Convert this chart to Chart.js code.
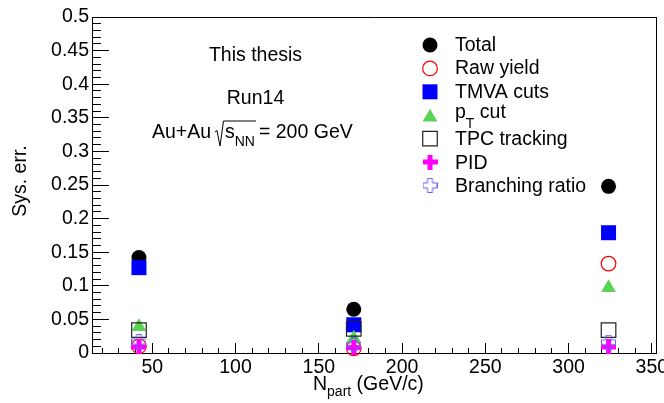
<!DOCTYPE html>
<html><head><meta charset="utf-8">
<script src="https://cdn.jsdelivr.net/npm/chart.js@4/dist/chart.umd.min.js"></script>
<style>html,body{margin:0;padding:0;background:#fff;}canvas{display:block;}</style>
</head><body>
<canvas id="c" width="664" height="403"></canvas>
<script>
// ---------------- data ----------------
const npart       = [42, 171, 324];
const totalErr    = [0.142, 0.065, 0.248];
const rawYieldErr = [0.010, 0.007, 0.133];
const tmvaErr     = [0.127, 0.042, 0.179];
const ptCutErr    = [0.039, 0.022, 0.097];
const tpcErr      = [0.034, 0.036, 0.034];
const pidErr      = [0.009, 0.008, 0.009];
const brErr       = [0.017, 0.012, 0.016];
const seriesNames = ['Total', 'Raw yield', 'TMVA cuts', 'p_{T} cut', 'TPC tracking', 'PID', 'Branching ratio'];
const xTickValues = [50, 100, 150, 200, 250, 300, 350];
const xTickLabels = ['50', '100', '150', '200', '250', '300', '350'];
const yTickValues = [0, 0.05, 0.1, 0.15, 0.2, 0.25, 0.3, 0.35, 0.4, 0.45, 0.5];
const yTickLabels = ['0', '0.05', '0.1', '0.15', '0.2', '0.25', '0.3', '0.35', '0.4', '0.45', '0.5'];
const xMinorStep = 10;
const yMinorStep = 0.01;
const xTitle = 'N_{part} (GeV/c)';
const yTitle = 'Sys. err.';
const textLines = ['This thesis', 'Run14'];

// ---------------- styling ----------------
const FAM = '"Liberation Sans", Arial, Helvetica, sans-serif';
const FS = 19.5, SUBFS = 14;
const font = s => s + 'px ' + FAM;
Chart.defaults.font.family = FAM;
Chart.defaults.font.size = FS;
Chart.defaults.color = '#000';

const X_MIN = 13.8, X_MAX = 352.5, Y_MIN = 0, Y_MAX = 0.5;

function crossCanvas(fill, stroke) {
  const s = 15, c = document.createElement('canvas');
  c.width = s; c.height = s;
  const g = c.getContext('2d');
  let o0, o1, a0, a1;
  if (fill) { o0 = 0; o1 = 15; a0 = 5; a1 = 10; }
  else { o0 = 0.5; o1 = 14.5; a0 = 5.0; a1 = 10.0; }
  g.beginPath();
  g.moveTo(a0, o0); g.lineTo(a1, o0); g.lineTo(a1, a0); g.lineTo(o1, a0);
  g.lineTo(o1, a1); g.lineTo(a1, a1); g.lineTo(a1, o1); g.lineTo(a0, o1);
  g.lineTo(a0, a1); g.lineTo(o0, a1); g.lineTo(o0, a0); g.lineTo(a0, a0);
  g.closePath();
  if (fill) { g.fillStyle = fill; g.fill(); }
  else { g.strokeStyle = stroke; g.lineWidth = 1; g.stroke(); }
  return c;
}
const crossFilled = crossCanvas('#ff00ff', null);
const crossOpen = crossCanvas(null, '#6060ee');

const seriesValues = [totalErr, rawYieldErr, tmvaErr, ptCutErr, tpcErr, pidErr, brErr];
const styles = [
  { pointStyle: 'circle', radius: 7.5, bg: '#000000', bc: '#000000', bw: 0 },
  { pointStyle: 'circle', radius: 7.3, bg: 'rgba(0,0,0,0)', bc: '#ff0000', bw: 1.2 },
  { pointStyle: 'rect', radius: 10.6, bg: '#0000ff', bc: '#0000ff', bw: 0 },
  { pointStyle: 'triangle', radius: 8.5, bg: '#59d454', bc: '#59d454', bw: 0 },
  { pointStyle: 'rect', radius: 10.3, bg: 'rgba(0,0,0,0)', bc: '#222222', bw: 1.2 },
  { pointStyle: crossFilled, radius: 7.5, bg: '#ff00ff', bc: '#ff00ff', bw: 0 },
  { pointStyle: crossOpen, radius: 7.5, bg: '#6060ee', bc: '#6060ee', bw: 0 }
];

const datasets = seriesNames.map((name, i) => ({
  label: name,
  data: npart.map((x, k) => ({ x: x, y: seriesValues[i][k] })),
  pointStyle: styles[i].pointStyle,
  pointRadius: styles[i].radius,
  pointHoverRadius: styles[i].radius,
  backgroundColor: styles[i].bg,
  borderColor: styles[i].bc,
  borderWidth: styles[i].bw,
  pointBorderWidth: styles[i].bw,
  showLine: false,
  clip: false,
  order: 20 - i
}));

function parseRich(label) {
  const segs = []; const re = /_\{([^}]*)\}/g; let last = 0, m;
  while ((m = re.exec(label))) {
    if (m.index > last) segs.push({ t: label.slice(last, m.index) });
    segs.push({ t: m[1], sub: true });
    last = re.lastIndex;
  }
  if (last < label.length) segs.push({ t: label.slice(last) });
  return segs;
}
function drawRich(ctx, segs, x, y, subDy, align) {
  const w = segs.map(s => { ctx.font = font(s.sub ? SUBFS : FS); return ctx.measureText(s.t).width; });
  const total = w.reduce((a, b) => a + b, 0);
  let cx = align === 'center' ? x - total / 2 : x;
  segs.forEach((s, i) => {
    ctx.font = font(s.sub ? SUBFS : FS);
    ctx.fillText(s.t, cx, y + (s.sub ? subDy : 0));
    cx += w[i];
  });
}

const annotations = {
  id: 'annotations',
  afterDraw(chart) {
    const { ctx, data } = chart;
    ctx.save();
    ctx.fillStyle = '#000';
    ctx.textBaseline = 'alphabetic';
    ctx.textAlign = 'left';
    drawRich(ctx, [{ t: textLines[0] }], 255.5, 61, 0, 'center');
    drawRich(ctx, [{ t: textLines[1] }], 255.5, 104, 0, 'center');
    {
      const base = 138, subDy = 8;
      ctx.font = font(FS);
      const w1 = ctx.measureText('Au+Au').width;
      const xRad = 215;
      const xS = xRad + 10;
      const wS = ctx.measureText('s').width;
      ctx.font = font(SUBFS);
      const wNN = ctx.measureText('NN').width;
      ctx.font = font(FS);
      ctx.fillText('Au+Au', xRad - 4 - w1, base);
      const top = base - 17, bot = base + 8;
      ctx.beginPath();
      ctx.strokeStyle = '#000'; ctx.lineWidth = 1;
      ctx.moveTo(xRad, base - 6);
      ctx.lineTo(xRad + 2, base - 7.5);
      ctx.lineTo(xRad + 5, bot);
      ctx.lineTo(xRad + 8.5, top);
      ctx.lineTo(xS + wS + wNN + 1, top);
      ctx.stroke();
      ctx.fillText('s', xS, base);
      ctx.font = font(SUBFS);
      ctx.fillText('NN', xS + wS, base + subDy);
      ctx.font = font(FS);
      ctx.fillText('= 200 GeV', xS + wS + wNN + 4, base);
    }
    const mx = 430, tx = 455;
    data.datasets.forEach((ds, i) => {
      const my = 45 + 23.4 * i + (ds.pointStyle === 'triangle' ? 2 : 0);
      const ty = 50.7 + 23.6 * i;
      ctx.save();
      ctx.fillStyle = ds.backgroundColor;
      ctx.strokeStyle = ds.borderColor;
      ctx.lineWidth = ds.borderWidth;
      Chart.helpers.drawPoint(ctx, {
        pointStyle: ds.pointStyle, radius: ds.pointRadius, rotation: 0, borderWidth: ds.borderWidth
      }, mx, my);
      ctx.restore();
      ctx.fillStyle = '#000';
      const segs = parseRich(ds.label);
      const hasSub = segs.some(s => s.sub);
      drawRich(ctx, segs, tx, hasSub ? ty - 4 : ty, 10, 'left');
    });
    drawRich(ctx, parseRich(xTitle), 313, 390, 6, 'left');
    ctx.save();
    ctx.translate(26, 181);
    ctx.rotate(-Math.PI / 2);
    ctx.font = font(FS);
    ctx.textAlign = 'center';
    ctx.fillText(yTitle, 0, 0);
    ctx.restore();
    ctx.restore();
  }
};

const blackBorder = { display: true, color: '#000000', width: 1 };
const inwardTicks = len => ({ display: true, drawOnChartArea: false, drawTicks: true, tickLength: -len,
                              color: '#000000', tickColor: '#000000', tickWidth: 1, lineWidth: 1 });
const noGrid = { display: true, drawOnChartArea: false, drawTicks: false, color: '#000000', lineWidth: 1 };

new Chart(document.getElementById('c'), {
  type: 'scatter',
  data: { datasets: datasets },
  options: {
    responsive: false,
    animation: false,
    devicePixelRatio: 1,
    layout: { autoPadding: false, padding: { top: 17, right: 8, left: 0, bottom: 0 } },
    plugins: { legend: { display: false }, tooltip: { enabled: false } },
    scales: {
      x: {
        type: 'linear', position: 'bottom', min: X_MIN, max: X_MAX, weight: 0,
        grid: inwardTicks(10),
        border: blackBorder,
        afterBuildTicks: s => { s.ticks = xTickValues.map(v => ({ value: v })); },
        afterFit: s => { s.height = 50; s.paddingLeft = 0; s.paddingRight = 0; },
        ticks: { padding: 13, maxRotation: 0, autoSkip: false, font: { size: FS },
                 callback: (v, i) => xTickLabels[i] }
      },
      xm: {
        type: 'linear', axis: 'x', position: 'bottom', min: X_MIN, max: X_MAX, weight: -1,
        grid: inwardTicks(5),
        border: { display: false },
        afterBuildTicks: s => {
          const t = [];
          for (let k = Math.ceil(X_MIN / xMinorStep); k * xMinorStep <= X_MAX; k++) t.push({ value: k * xMinorStep });
          s.ticks = t;
        },
        afterFit: s => { s.height = 0; s.paddingLeft = 0; s.paddingRight = 0; },
        ticks: { display: false, autoSkip: false }
      },
      x2: {
        type: 'linear', axis: 'x', position: 'top', min: X_MIN, max: X_MAX,
        grid: noGrid, border: blackBorder,
        afterFit: s => { s.height = 0; s.paddingLeft = 0; s.paddingRight = 0; },
        ticks: { display: false }
      },
      y: {
        type: 'linear', position: 'left', min: Y_MIN, max: Y_MAX, weight: 0,
        grid: inwardTicks(17),
        border: blackBorder,
        afterBuildTicks: s => { s.ticks = yTickValues.map(v => ({ value: v })); },
        afterFit: s => { s.width = 92; s.paddingTop = 0; s.paddingBottom = 0; },
        ticks: { padding: 20, autoSkip: false, font: { size: FS },
                 callback: (v, i) => yTickLabels[i] }
      },
      ym: {
        type: 'linear', axis: 'y', position: 'left', min: Y_MIN, max: Y_MAX, weight: -1,
        grid: inwardTicks(9),
        border: { display: false },
        afterBuildTicks: s => {
          const t = [];
          const n = Math.round((Y_MAX - Y_MIN) / yMinorStep);
          for (let k = 0; k <= n; k++) t.push({ value: Y_MIN + k * yMinorStep });
          s.ticks = t;
        },
        afterFit: s => { s.width = 0; s.paddingTop = 0; s.paddingBottom = 0; },
        ticks: { display: false, autoSkip: false }
      },
      y2: {
        type: 'linear', axis: 'y', position: 'right', min: Y_MIN, max: Y_MAX,
        grid: noGrid, border: blackBorder,
        afterFit: s => { s.width = 0; s.paddingTop = 0; s.paddingBottom = 0; },
        ticks: { display: false }
      }
    }
  },
  plugins: [annotations]
});
</script>
</body></html>
